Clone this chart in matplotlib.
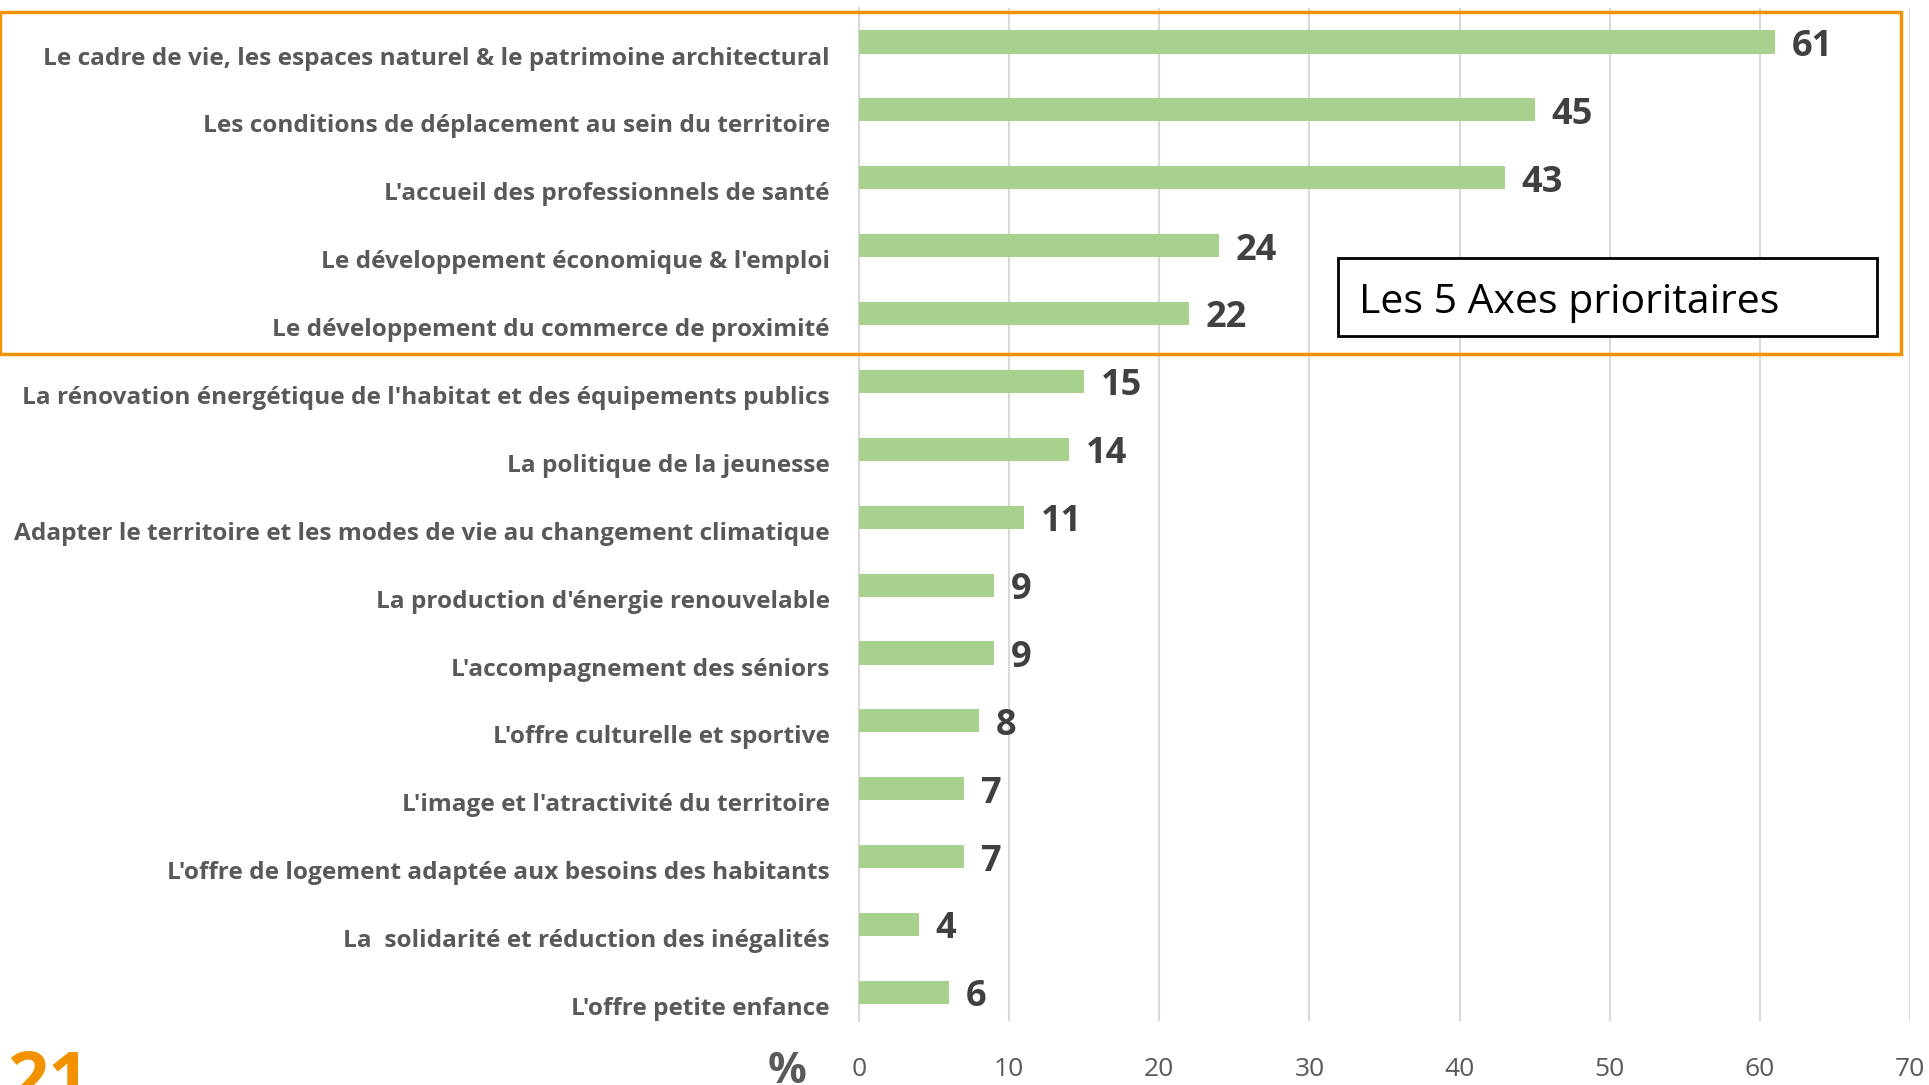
import numpy as np
import matplotlib.pyplot as plt
from matplotlib.patches import Rectangle

plt.rcParams['font.family'] = ['Open Sans', 'DejaVu Sans']

categories = [
    "Le cadre de vie, les espaces naturel & le patrimoine architectural",
    "Les conditions de déplacement au sein du territoire",
    "L'accueil des professionnels de santé",
    "Le développement économique & l'emploi",
    "Le développement du commerce de proximité",
    "La rénovation énergétique de l'habitat et des équipements publics",
    "La politique de la jeunesse",
    "Adapter le territoire et les modes de vie au changement climatique",
    "La production d'énergie renouvelable",
    "L'accompagnement des séniors",
    "L'offre culturelle et sportive",
    "L'image et l'atractivité du territoire",
    "L'offre de logement adaptée aux besoins des habitants",
    "La  solidarité et réduction des inégalités",
    "L'offre petite enfance",
]
values = [61, 45, 43, 24, 22, 15, 14, 11, 9, 9, 8, 7, 7, 4, 6]
x_ticks = [0, 10, 20, 30, 40, 50, 60, 70]

grey = '#595959'
fig = plt.figure(figsize=(19.29, 10.85), dpi=100)
ax = fig.add_axes([0.4453, 0.059, 0.5449, 0.9336])

y = np.arange(len(categories))
ax.barh(y, values, height=0.34, color='#A9D18E', zorder=3)
for yi, v in zip(y, values):
    ax.annotate(str(v), (v, yi), xytext=(12, -3.5), textcoords='offset points',
                ha='left', va='center', fontsize=26, fontweight='bold',
                color='#404040')

ax.set_xlim(0, 70)
ax.set_ylim(14.42, -0.5)
ax.set_xticks(x_ticks)
ax.set_xticklabels([str(t) for t in x_ticks], fontsize=19, color=grey)
ax.set_yticks(y + 0.2)
ax.set_yticklabels(categories, fontsize=17.6, fontweight='bold', color=grey)
ax.tick_params(axis='both', length=0)
ax.tick_params(axis='y', pad=21)
ax.tick_params(axis='x', pad=26)
ax.grid(axis='x', color='#D9D9D9', linewidth=1.5, zorder=0)
for s in ['top', 'right', 'bottom']:
    ax.spines[s].set_visible(False)
ax.spines['left'].set_color('#D9D9D9')
ax.spines['left'].set_linewidth(1.5)

# box "Les 5 Axes prioritaires"
ax.add_patch(Rectangle((31.9, 3.18), 35.9, 1.15, fill=True, facecolor='white',
                       edgecolor='black', linewidth=2, zorder=5))
ax.text(33.3, 3.84, "Les 5 Axes prioritaires", fontsize=29.5, color='black',
        ha='left', va='center', zorder=6)

# orange frame around the five priorities
fig.add_artist(Rectangle((0.0, 0.674), 0.9855, 0.315, transform=fig.transFigure,
                         fill=False, edgecolor='#F39200', linewidth=2.5))

fig.text(0.408, 0.012, "%", fontsize=31, fontweight='bold', color=grey,
         ha='center', va='center')
fig.text(0.004, 0.034, "21", fontsize=52, fontweight='bold', color='#F39200',
         ha='left', va='top')

fig.savefig('out.png', dpi=100)
